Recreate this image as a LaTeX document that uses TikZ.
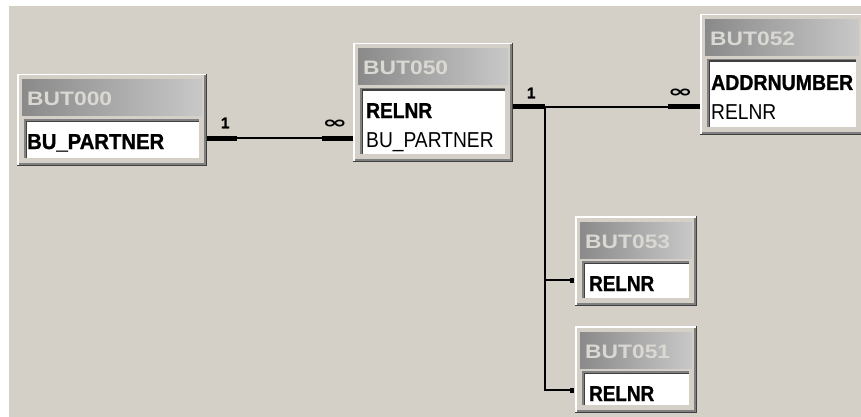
\documentclass[tikz,border=0pt]{standalone}
\usepackage{fontspec}
\setmainfont{Liberation Sans}
\newfontfamily\dejavu{DejaVu Sans}
\newfontfamily\heavy{Liberation Sans}[FakeBold=1.2,BoldFont={Liberation Sans Bold},BoldFeatures={FakeBold=1.2}]
\usetikzlibrary{fit,arrows.meta}
\definecolor{bgc}{HTML}{D4D0C8}
\definecolor{ttlL}{HTML}{8A8A8A}
\definecolor{ttlR}{HTML}{C8C8C8}
\definecolor{ttltext}{HTML}{DAD8D2}
\definecolor{edgeA}{HTML}{808080}
\definecolor{edgeB}{HTML}{404040}
\newcommand\ttltxt[1]{\scalebox{1.17}[1]{\fontsize{19.5}{19.5}\selectfont\bfseries #1}}
\newcommand\fldtxt[1]{\scalebox{0.89}[1]{\fontsize{21.6}{22}\selectfont #1}}
\newcommand\fldbold[2]{\resizebox{#1pt}{\height}{\fontsize{21.6}{22}\selectfont\heavy\bfseries #2}}
\tikzset{
  ttl/.style={anchor=base west, inner sep=0pt, text=ttltext},
  fld/.style={anchor=base west, inner sep=0pt, text=black},
  thinline/.style={line width=2pt, black},
  barline/.style={line width=5pt, black},
  card/.style={font=\fontsize{15.5}{15.5}\selectfont\heavy\bfseries, inner sep=0pt, text=black},
}
\newcommand\dbtable[6]{%
  \node[fit={(#2,#3)(#4,#5)}, inner sep=0pt, fill=bgc] (#1) {};
  \draw[edgeB, line width=1.5pt] (#2,#5-0.75) -- (#4-0.75,#5-0.75) -- (#4-0.75,#3);
  \draw[edgeA, line width=1.5pt] (#2+1.5,#5-2.25) -- (#4-2.25,#5-2.25) -- (#4-2.25,#3+1.5);
  \draw[white, line width=1.5pt] (#2+0.75,#5-1.5) -- (#2+0.75,#3+0.75) -- (#4-1.5,#3+0.75);
  \shade[left color=ttlL, right color=ttlR] (#2+5,#3+6) rectangle (#4-5,#3+42);
  \fill[white] (#2+7,#3+45) rectangle (#4-8,#5-8);
  \draw[edgeA, line width=1.5pt] (#2+7.75,#5-8) -- (#2+7.75,#3+45.75) -- (#4-8,#3+45.75);
  \draw[edgeB, line width=1.5pt] (#2+9.25,#5-8) -- (#2+9.25,#3+47.25) -- (#4-8,#3+47.25);
  \node[ttl] (#1t) at (#2+10,#3+32) {\ttltxt{#6}};
}
\begin{document}
\begin{tikzpicture}[x=1pt,y=-1pt]
\useasboundingbox (0,0) rectangle (861,417);
\clip (0,0) rectangle (861,417);
\fill[white] (0,0) rectangle (861,417);
\fill[bgc] (9,6) rectangle (861,417);

% tables
\dbtable{b000}{17}{74}{207}{166}{BUT000}
\node[fld] (r000) at (27,149) {\fldbold{137}{BU\_PARTNER}};

\dbtable{b050}{353}{43}{513}{162}{BUT050}
\node[fld] (r050a) at (366,118) {\fldbold{66}{RELNR}};
\node[fld] (r050b) at (366,147) {\fldtxt{BU\_PARTNER}};

\dbtable{b052}{700}{14}{864}{135}{BUT052}
\node[fld] (r052a) at (711,90) {\fldbold{142}{ADDRNUMBER}};
\node[fld] (r052b) at (711,119) {\fldtxt{RELNR}};

\dbtable{b053}{575}{216}{697}{306}{BUT053}
\node[fld] (r053) at (589,291) {\fldbold{65}{RELNR}};

\dbtable{b051}{575}{326}{697}{413}{BUT051}
\node[fld] (r051) at (589,401) {\fldbold{65}{RELNR}};

% connection points
\coordinate (c000) at ([yshift=11pt]r000.base west);
\coordinate (c050) at ([yshift=11pt]r050a.base west);
\coordinate (c053) at ([yshift=11pt]r053.base west);
\coordinate (c051) at ([yshift=11pt]r051.base west);

% BUT000 -- BUT050
\draw[thinline] (b000.east |- c000) -- (b050.west |- c000);
\draw[barline] (b000.east |- c000) -- ++(30,0);
\draw[barline] (b050.west |- c000) -- ++(-31,0);
\path (b000.east |- c000) ++(18,-15) node[card] {1};
\path (b050.west |- c000) ++(-18,-14) node[card] {\resizebox{25pt}{8.5pt}{\dejavu\bfseries ∞}};

% BUT050 -- BUT052
\draw[thinline] (b050.east |- c050) -- (b052.west |- c050);
\draw[barline] (b050.east |- c050) -- ++(32,0);
\draw[barline] (b052.west |- c050) -- ++(-32,0);
\path (b050.east |- c050) ++(18,-14) node[card] {1};
\path (b052.west |- c050) ++(-19.5,-13.5) node[card] {\resizebox{25pt}{8.5pt}{\dejavu\bfseries ∞}};

% branches to BUT053 / BUT051
\path (b050.east |- c050) ++(32,0) coordinate (j);
\draw[thinline, -{Square[length=4pt,width=5pt]}, shorten >=1pt] (j) -- (j |- c053) -- (b053.west |- c053);
\draw[thinline, -{Square[length=4pt,width=5pt]}, shorten >=1pt] (j) -- (j |- c051) -- (b051.west |- c051);
\end{tikzpicture}
\end{document}
